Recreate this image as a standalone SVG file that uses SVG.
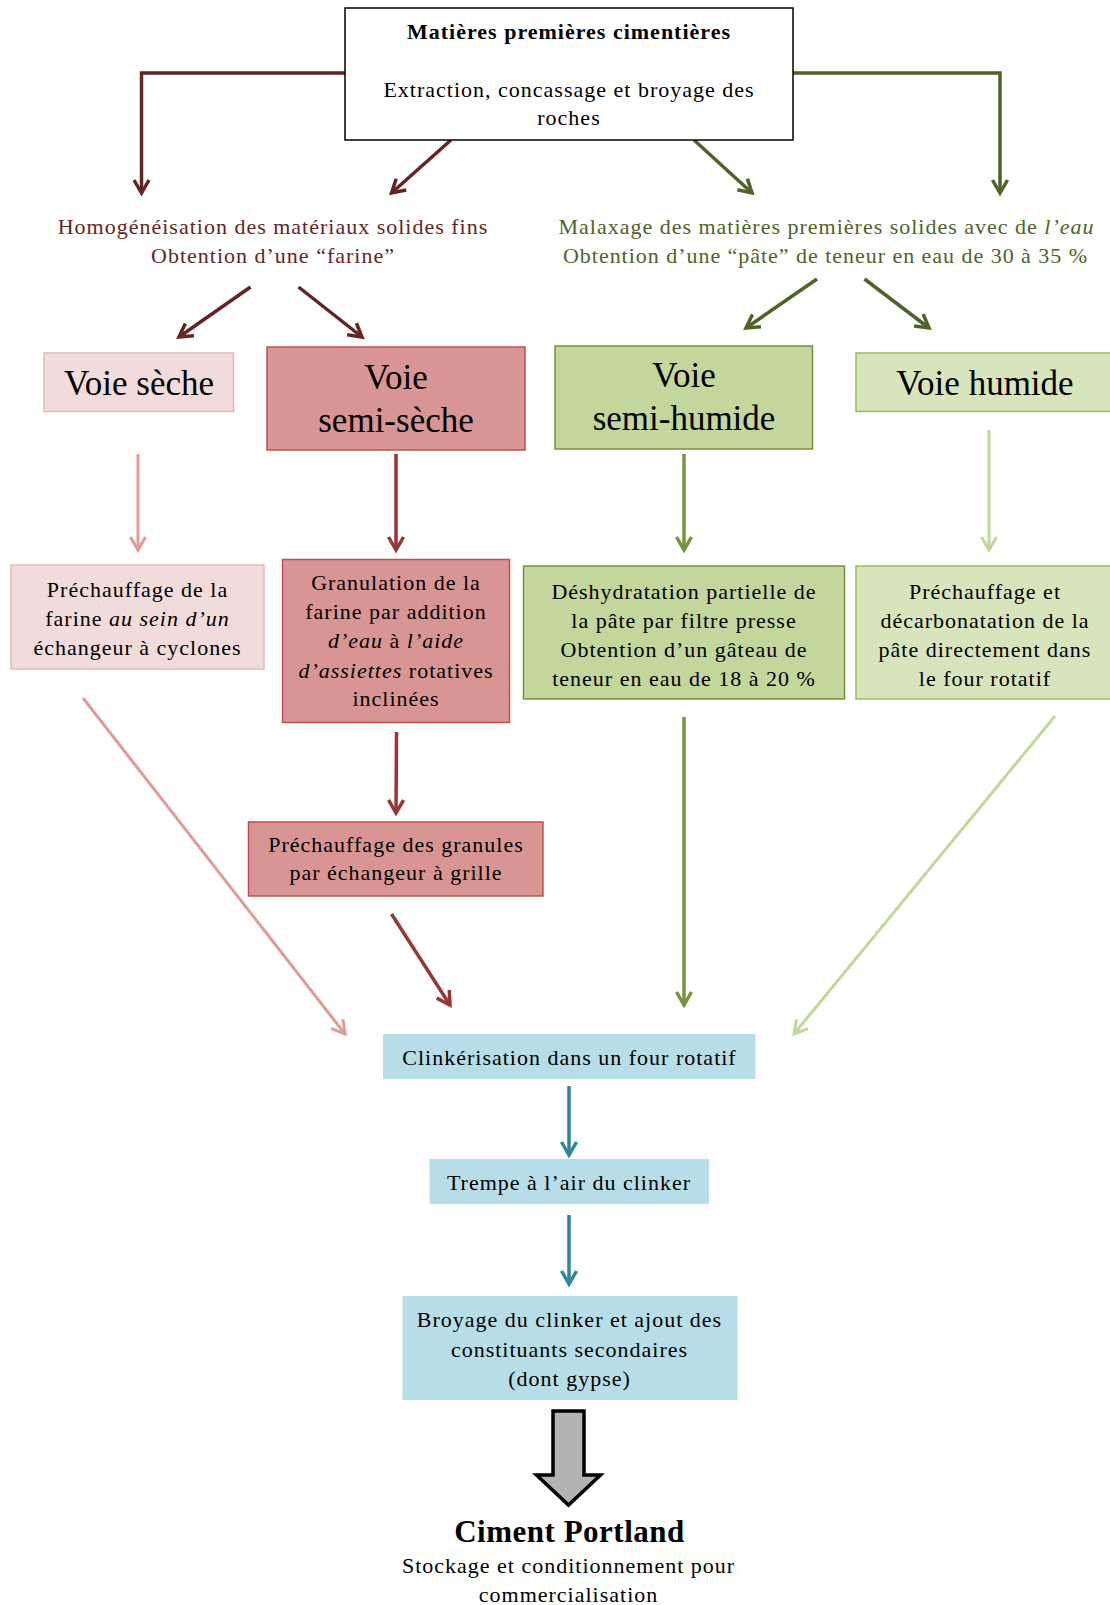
<svg xmlns="http://www.w3.org/2000/svg" width="1110" height="1605" viewBox="0 0 1110 1605">
<style>
text{font-family:"Liberation Serif","Times New Roman",serif;font-size:22px;letter-spacing:1px;text-anchor:middle;fill:#000}
.b{font-weight:bold}
.big{font-size:35px;letter-spacing:0}
.it{font-style:italic}
.red{fill:#632523}
.grn{fill:#4f6228}
.ln{fill:none;stroke-linejoin:miter}
</style>
<defs>
<marker id="aR" markerUnits="userSpaceOnUse" viewBox="-16 -10 20 20" refX="0" refY="0" markerWidth="20" markerHeight="20" orient="auto"><path d="M-13,-7.5 L0,0 L-13,7.5" fill="none" stroke="#632523" stroke-width="3.5"/></marker>
<marker id="aG" markerUnits="userSpaceOnUse" viewBox="-16 -10 20 20" refX="0" refY="0" markerWidth="20" markerHeight="20" orient="auto"><path d="M-13,-7.5 L0,0 L-13,7.5" fill="none" stroke="#4f6228" stroke-width="3.5"/></marker>
<marker id="aP" markerUnits="userSpaceOnUse" viewBox="-16 -10 20 20" refX="0" refY="0" markerWidth="20" markerHeight="20" orient="auto"><path d="M-13,-7.5 L0,0 L-13,7.5" fill="none" stroke="#dd9b9a" stroke-width="3"/></marker>
<marker id="aD" markerUnits="userSpaceOnUse" viewBox="-16 -10 20 20" refX="0" refY="0" markerWidth="20" markerHeight="20" orient="auto"><path d="M-13,-7.5 L0,0 L-13,7.5" fill="none" stroke="#953735" stroke-width="3.5"/></marker>
<marker id="aM" markerUnits="userSpaceOnUse" viewBox="-16 -10 20 20" refX="0" refY="0" markerWidth="20" markerHeight="20" orient="auto"><path d="M-13,-7.5 L0,0 L-13,7.5" fill="none" stroke="#77933c" stroke-width="3.5"/></marker>
<marker id="aL" markerUnits="userSpaceOnUse" viewBox="-16 -10 20 20" refX="0" refY="0" markerWidth="20" markerHeight="20" orient="auto"><path d="M-13,-7.5 L0,0 L-13,7.5" fill="none" stroke="#c3d69b" stroke-width="3"/></marker>
<marker id="aT" markerUnits="userSpaceOnUse" viewBox="-16 -10 20 20" refX="0" refY="0" markerWidth="20" markerHeight="20" orient="auto"><path d="M-13,-7.5 L0,0 L-13,7.5" fill="none" stroke="#31849b" stroke-width="3.5"/></marker>
</defs>
<rect width="1110" height="1605" fill="#fff"/>

<g id="connectors" class="ln">
<polyline points="345,73 141.5,73 141.5,193" stroke="#632523" stroke-width="3.5" fill="none" marker-end="url(#aR)"/>
<polyline points="793,73 1000,73 1000,193" stroke="#4f6228" stroke-width="3.5" fill="none" marker-end="url(#aG)"/>
<line x1="451" y1="140" x2="391.5" y2="193" stroke="#632523" stroke-width="3.5" marker-end="url(#aR)"/>
<line x1="694" y1="140" x2="752" y2="193" stroke="#4f6228" stroke-width="3.5" marker-end="url(#aG)"/>
<line x1="250.5" y1="287" x2="179" y2="337" stroke="#632523" stroke-width="3.5" marker-end="url(#aR)"/>
<line x1="298.5" y1="287" x2="362" y2="337" stroke="#632523" stroke-width="3.5" marker-end="url(#aR)"/>
<line x1="817" y1="279" x2="746" y2="328" stroke="#4f6228" stroke-width="3.5" marker-end="url(#aG)"/>
<line x1="864.5" y1="279" x2="929" y2="328" stroke="#4f6228" stroke-width="3.5" marker-end="url(#aG)"/>
<line x1="138" y1="454" x2="138" y2="550" stroke="#dd9b9a" stroke-width="3" marker-end="url(#aP)"/>
<line x1="396" y1="454" x2="396" y2="550" stroke="#953735" stroke-width="3.5" marker-end="url(#aD)"/>
<line x1="684" y1="454" x2="684" y2="550" stroke="#77933c" stroke-width="3.5" marker-end="url(#aM)"/>
<line x1="989" y1="430" x2="989" y2="550" stroke="#c3d69b" stroke-width="3" marker-end="url(#aL)"/>
<line x1="396.5" y1="732" x2="396" y2="813" stroke="#953735" stroke-width="3.5" marker-end="url(#aD)"/>
<line x1="83" y1="698" x2="345" y2="1034" stroke="#dd9b9a" stroke-width="3" marker-end="url(#aP)"/>
<line x1="391.5" y1="914" x2="450" y2="1005" stroke="#953735" stroke-width="3.5" marker-end="url(#aD)"/>
<line x1="684" y1="717" x2="684" y2="1005" stroke="#77933c" stroke-width="3.5" marker-end="url(#aM)"/>
<line x1="1055" y1="716" x2="794" y2="1034" stroke="#c3d69b" stroke-width="3" marker-end="url(#aL)"/>
<line x1="569" y1="1086" x2="569" y2="1155" stroke="#31849b" stroke-width="3.5" marker-end="url(#aT)"/>
<line x1="569" y1="1215" x2="569" y2="1284" stroke="#31849b" stroke-width="3.5" marker-end="url(#aT)"/>
</g>

<g id="n-matieres">
<rect x="345" y="8" width="448" height="132" fill="#fff" stroke="#000" stroke-width="1.5"/>
<text x="569" y="39" class="b">Matières premières cimentières</text>
<text x="569" y="97">Extraction, concassage et broyage des</text>
<text x="569" y="125">roches</text>
</g>

<g id="n-farine">
<text x="273" y="234" class="red">Homogénéisation des matériaux solides fins</text>
<text x="273" y="263" class="red">Obtention d’une “farine”</text>
</g>

<g id="n-pate">
<text x="558.5" y="233.5" class="grn" style="text-anchor:start" textLength="536" lengthAdjust="spacing">Malaxage des matières premières solides avec de <tspan class="it">l’eau</tspan></text>
<text x="563" y="263" class="grn" style="text-anchor:start" textLength="525" lengthAdjust="spacing">Obtention d’une “pâte” de teneur en eau de 30 à 35 %</text>
</g>

<g id="n-voie-seche">
<rect x="44" y="353" width="189.5" height="58.5" fill="#f2dcdb" stroke="#e6b9b8" stroke-width="1.5"/>
<text x="139" y="395" class="big">Voie sèche</text>
</g>

<g id="n-voie-semi-seche">
<rect x="267" y="347" width="258" height="103" fill="#d99594" stroke="#c0504d" stroke-width="1.5"/>
<text x="396" y="389" class="big">Voie</text>
<text x="396" y="432" class="big">semi-sèche</text>
</g>

<g id="n-voie-semi-humide">
<rect x="555" y="346" width="257.5" height="103" fill="#c3d69b" stroke="#76923c" stroke-width="1.5"/>
<text x="684" y="387" class="big">Voie</text>
<text x="684" y="430" class="big">semi-humide</text>
</g>

<g id="n-voie-humide">
<rect x="856" y="353" width="258" height="58.5" fill="#d7e4bc" stroke="#9bbb59" stroke-width="1.5"/>
<text x="985" y="395" class="big">Voie humide</text>
</g>

<g id="n-cyclones">
<rect x="11" y="565" width="253" height="104" fill="#f2dcdb" stroke="#e6b9b8" stroke-width="1.5"/>
<text x="137.5" y="597">Préchauffage de la</text>
<text x="137.5" y="626">farine <tspan class="it">au sein d’un</tspan></text>
<text x="137.5" y="655">échangeur à cyclones</text>
</g>

<g id="n-granulation">
<rect x="282.5" y="559.5" width="227" height="163" fill="#d99594" stroke="#c0504d" stroke-width="1.5"/>
<text x="396" y="590">Granulation de la</text>
<text x="396" y="619">farine par addition</text>
<text x="396" y="648"><tspan class="it">d’eau</tspan> à <tspan class="it">l’aide</tspan></text>
<text x="396" y="677.5"><tspan class="it">d’assiettes</tspan> rotatives</text>
<text x="396" y="706">inclinées</text>
</g>

<g id="n-deshydratation">
<rect x="523.5" y="566" width="321" height="133" fill="#c3d69b" stroke="#76923c" stroke-width="1.5"/>
<text x="684" y="599">Déshydratation partielle de</text>
<text x="684" y="628">la pâte par filtre presse</text>
<text x="684" y="657">Obtention d’un gâteau de</text>
<text x="684" y="686">teneur en eau de 18 à 20 %</text>
</g>

<g id="n-decarbonatation">
<rect x="856" y="566" width="258" height="133" fill="#d7e4bc" stroke="#9bbb59" stroke-width="1.5"/>
<text x="985" y="599">Préchauffage et</text>
<text x="985" y="628">décarbonatation de la</text>
<text x="985" y="657">pâte directement dans</text>
<text x="985" y="686">le four rotatif</text>
</g>

<g id="n-granules">
<rect x="248.5" y="822" width="294.5" height="74" fill="#d99594" stroke="#c0504d" stroke-width="1.5"/>
<text x="396" y="852">Préchauffage des granules</text>
<text x="396" y="880">par échangeur à grille</text>
</g>

<g id="n-clinkerisation">
<rect x="383" y="1034" width="372.5" height="45" fill="#b7dee8"/>
<text x="569.5" y="1065">Clinkérisation dans un four rotatif</text>
</g>

<g id="n-trempe">
<rect x="429.5" y="1159" width="279.5" height="45" fill="#b7dee8"/>
<text x="569" y="1190">Trempe à l’air du clinker</text>
</g>

<g id="n-broyage">
<rect x="402.5" y="1296" width="335" height="104" fill="#b7dee8"/>
<text x="569.5" y="1327">Broyage du clinker et ajout des</text>
<text x="569.5" y="1357">constituants secondaires</text>
<text x="569.5" y="1386">(dont gypse)</text>
</g>

<g id="n-ciment">
<polygon points="553,1411 584,1411 584,1475 600.5,1475 568.5,1505 536.5,1475 553,1475" fill="#b3b3b3" stroke="#000" stroke-width="3.5" stroke-linejoin="miter"/>
<text x="569.5" y="1542" class="b" style="font-size:31px;letter-spacing:0.5px">Ciment Portland</text>
<text x="568.5" y="1573">Stockage et conditionnement pour</text>
<text x="568.5" y="1602">commercialisation</text>
</g>
</svg>
